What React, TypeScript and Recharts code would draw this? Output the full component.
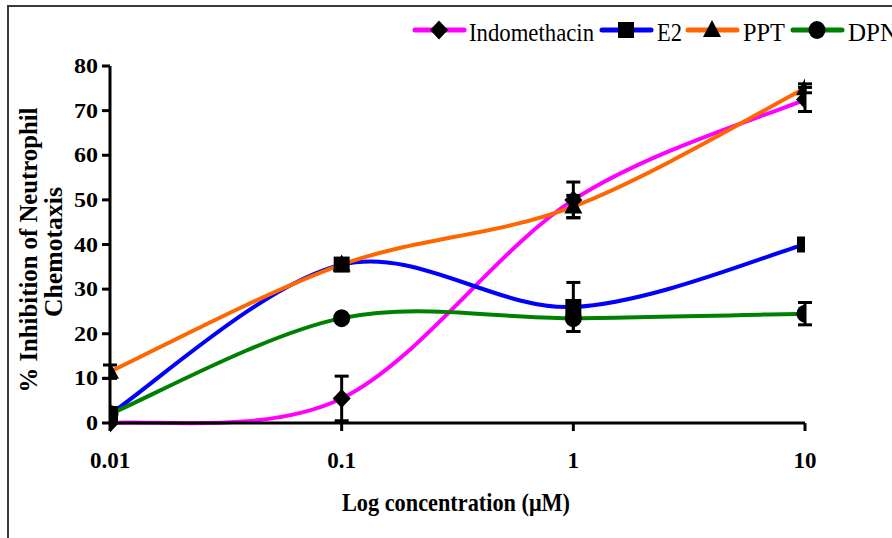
import { LineChart, Line, XAxis, YAxis, ErrorBar } from 'recharts';

const concentrations = [0.01, 0.1, 1, 10];
const xTicks = [0.01, 0.1, 1, 10];
const yTicks = [0, 10, 20, 30, 40, 50, 60, 70, 80];

const indomethacin = [0, 5.5, 50, 72.5];
const indomethacinErr = [null, 5, 4, 2.7];
const e2 = [2, 35.5, 26, 40];
const e2Err = [null, null, 5.5, null];
const ppt = [11.5, 35.5, 48.5, 75];
const pptErr = [1.5, null, 2.5, 1];
const dpn = [2, 23.5, 23.5, 24.5];
const dpnErr = [null, null, 3, 2.5];

const data = concentrations.map((c, i) => ({
  conc: c,
  indo: indomethacin[i], indoErr: indomethacinErr[i],
  e2: e2[i], e2Err: e2Err[i],
  ppt: ppt[i], pptErr: pptErr[i],
  dpn: dpn[i], dpnErr: dpnErr[i],
}));

const FONT = '"Liberation Serif", "Times New Roman", serif';

// Excel-style smoothed line (Catmull-Rom through the points)
function excelSmooth(context: any) {
  let pts: number[][] = [];
  return {
    areaStart() {},
    areaEnd() {},
    lineStart() { pts = []; },
    point(x: number, y: number) { pts.push([+x, +y]); },
    lineEnd() {
      const n = pts.length;
      if (!n) return;
      context.moveTo(pts[0][0], pts[0][1]);
      for (let i = 0; i < n - 1; i++) {
        const p0 = pts[Math.max(0, i - 1)];
        const p1 = pts[i];
        const p2 = pts[i + 1];
        const p3 = pts[Math.min(n - 1, i + 2)];
        context.bezierCurveTo(
          p1[0] + (p2[0] - p0[0]) / 6, p1[1] + (p2[1] - p0[1]) / 6,
          p2[0] - (p3[0] - p1[0]) / 6, p2[1] - (p3[1] - p1[1]) / 6,
          p2[0], p2[1]
        );
      }
    },
  };
}

const Marker = ({ shape, cx, cy }: { shape: string; cx: number; cy: number }) => {
  if (cx == null || cy == null) return null;
  if (shape === 'diamond')
    return <polygon points={`${cx},${cy - 9.5} ${cx + 9},${cy} ${cx},${cy + 9.5} ${cx - 9},${cy}`} fill="#000" />;
  if (shape === 'square') return <rect x={cx - 8} y={cy - 8} width={16} height={16} fill="#000" />;
  if (shape === 'triangle')
    return <polygon points={`${cx},${cy - 10} ${cx + 9},${cy + 7} ${cx - 9},${cy + 7}`} fill="#000" />;
  return <ellipse cx={cx} cy={cy} rx={8.5} ry={9} fill="#000" />;
};

const dot = (shape: string) => (p: any) => <Marker key={`${shape}-${p.index}`} shape={shape} cx={p.cx} cy={p.cy} />;

const YTick = (p: any) => {
  const label = String(p.payload.value);
  return (
    <text x={p.x} y={p.y + 7} textAnchor="end" fontSize={21} fontWeight="bold" fontFamily={FONT} fill="#000"
      textLength={label.length * 12} lengthAdjust="spacingAndGlyphs">
      {label}
    </text>
  );
};

const XTick = (p: any) => (
  <text x={p.x} y={p.y + 25} textAnchor="middle" fontSize={23} fontWeight="bold" fontFamily={FONT} fill="#000">
    {String(p.payload.value)}
  </text>
);

const series = [
  { key: 'indo', err: 'indoErr', name: 'Indomethacin', color: '#FF00FF', shape: 'diamond' },
  { key: 'e2', err: 'e2Err', name: 'E2', color: '#0000FF', shape: 'square' },
  { key: 'ppt', err: 'pptErr', name: 'PPT', color: '#FF6600', shape: 'triangle' },
  { key: 'dpn', err: 'dpnErr', name: 'DPN', color: '#008000', shape: 'circle' },
];

const legendItems = [
  { x: 415, textX: 469, w: 125 },
  { x: 602, textX: 657, w: 25 },
  { x: 688, textX: 743, w: 42 },
  { x: 793, textX: 848, w: 50 },
];

export default function App() {
  return (
    <div style={{ position: 'absolute', left: 0, top: 0, width: 892, height: 538, background: '#fff', overflow: 'hidden' }}>
      <div style={{ position: 'absolute', left: 7, top: 5, width: 950, height: 600, borderLeft: '2px solid #3a3a3a', borderTop: '2px solid #3a3a3a' }} />
      <div style={{ position: 'absolute', left: 0, top: 0 }}>
        <LineChart width={892} height={538} data={data} margin={{ top: 66, right: 87, left: 50, bottom: 65 }}>
          <XAxis
            dataKey="conc"
            type="number"
            scale="log"
            domain={[0.01, 10]}
            ticks={xTicks}
            allowDataOverflow
            axisLine={{ stroke: '#000', strokeWidth: 3 }}
            tickLine={{ stroke: '#000', strokeWidth: 3 }}
            tickSize={8}
            tickMargin={12}
            height={50}
            tick={<XTick />}
          />
          <YAxis
            type="number"
            domain={[0, 80]}
            ticks={yTicks}
            width={60}
            axisLine={{ stroke: '#000', strokeWidth: 3 }}
            tickLine={{ stroke: '#000', strokeWidth: 3 }}
            tickSize={8}
            tickMargin={4}
            tick={<YTick />}
          />
          {series.map((s) => (
            <Line
              key={s.key}
              dataKey={s.key}
              name={s.name}
              type={excelSmooth as any}
              stroke={s.color}
              strokeWidth={4}
              dot={dot(s.shape)}
              activeDot={false}
              isAnimationActive={false}
            >
              <ErrorBar dataKey={s.err} direction="y" width={7} stroke="#000" strokeWidth={3} isAnimationActive={false} />
            </Line>
          ))}
        </LineChart>
      </div>
      <svg width={892} height={538} style={{ position: 'absolute', left: 0, top: 0, pointerEvents: 'none' }}>
        {series.map((s, i) => {
          const it = legendItems[i];
          return (
            <g key={s.key}>
              <line x1={it.x} x2={it.x + 49} y1={30} y2={30} stroke={s.color} strokeWidth={5} strokeLinecap="round" />
              <Marker shape={s.shape} cx={it.x + 24} cy={30} />
              <text x={it.textX} y={41} fontSize={26} fontFamily={FONT} fill="#000" textLength={it.w} lengthAdjust="spacingAndGlyphs">
                {s.name}
              </text>
            </g>
          );
        })}
        <text x={456} y={511} textAnchor="middle" fontSize={25} fontWeight="bold" fontFamily={FONT} fill="#000" textLength={228} lengthAdjust="spacingAndGlyphs">
          Log concentration (μM)
        </text>
        <g transform="translate(37,250) rotate(-90)">
          <text x={0} y={0} textAnchor="middle" fontSize={25} fontWeight="bold" fontFamily={FONT} fill="#000" textLength={285} lengthAdjust="spacingAndGlyphs">
            % Inhibition of Neutrophil
          </text>
        </g>
        <g transform="translate(62,252) rotate(-90)">
          <text x={0} y={0} textAnchor="middle" fontSize={25} fontWeight="bold" fontFamily={FONT} fill="#000" textLength={130} lengthAdjust="spacingAndGlyphs">
            Chemotaxis
          </text>
        </g>
      </svg>
    </div>
  );
}
